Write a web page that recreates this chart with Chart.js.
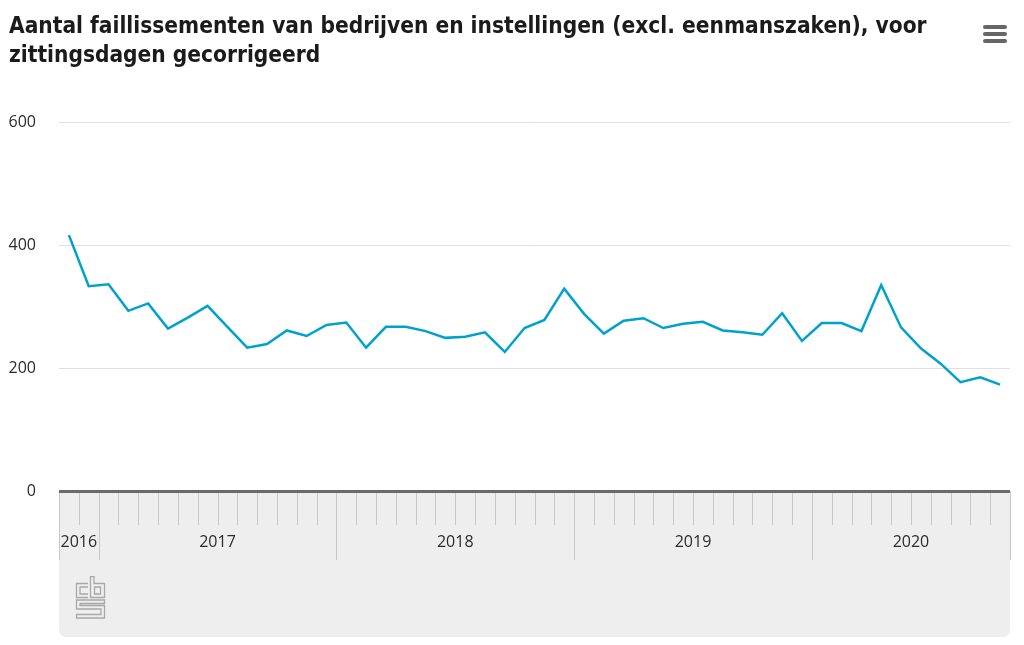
<!DOCTYPE html>
<html lang="nl">
<head>
<meta charset="utf-8">
<title>Faillissementen</title>
<script src="https://cdn.jsdelivr.net/npm/chart.js@4.4.1/dist/chart.umd.min.js"></script>
<style>
    html, body { margin: 0; padding: 0; background: #fff; }
    #wrap { position: relative; width: 1024px; height: 645px; overflow: hidden; }
    #grafiek { position: absolute; left: 0; top: 0; }
    #titel {
        position: absolute; left: 9px; top: 11px;
        font-family: "DejaVu Sans Condensed", "DejaVu Sans", sans-serif;
        font-weight: bold; font-size: 22.5px; line-height: 29px; color: #1b1b1b;
        white-space: nowrap;
    }
    #menu { position: absolute; left: 983px; top: 25px; width: 24px; }
    #menu span { display: block; height: 4px; margin-bottom: 3px; background: #666; border-radius: 2px; }
    #logo { position: absolute; left: 75px; top: 576px; }
</style>
</head>
<body>
<div id="wrap">
    <canvas id="grafiek" width="1024" height="645"></canvas>
    <div id="titel">Aantal faillissementen van bedrijven en instellingen (excl. eenmanszaken), voor<br>zittingsdagen gecorrigeerd</div>
    <div id="menu"><span></span><span></span><span></span></div>
    <svg id="logo" width="31" height="43" viewBox="0 0 31 43" fill="none" stroke="#a8a8a8" stroke-width="1.3">
        <path d="M13 7.5H1.5V21.5H13M13 11H5V18H13"/>
        <path d="M15.5 0.5H19V7.5H29.5V21.5H15.5Z M19.5 11H25.5V18H19.5Z"/>
        <path d="M29.5 24H1.5V33H26V38.5H1.5V42H29.5V29.5H5V27.5H29.5Z"/>
    </svg>
</div>

<script>
// Maanden (nov 2016 t/m okt 2020)
const maanden = [
    'november 2016', 'december 2016',
    'januari 2017', 'februari 2017', 'maart 2017', 'april 2017', 'mei 2017', 'juni 2017',
    'juli 2017', 'augustus 2017', 'september 2017', 'oktober 2017', 'november 2017', 'december 2017',
    'januari 2018', 'februari 2018', 'maart 2018', 'april 2018', 'mei 2018', 'juni 2018',
    'juli 2018', 'augustus 2018', 'september 2018', 'oktober 2018', 'november 2018', 'december 2018',
    'januari 2019', 'februari 2019', 'maart 2019', 'april 2019', 'mei 2019', 'juni 2019',
    'juli 2019', 'augustus 2019', 'september 2019', 'oktober 2019', 'november 2019', 'december 2019',
    'januari 2020', 'februari 2020', 'maart 2020', 'april 2020', 'mei 2020', 'juni 2020',
    'juli 2020', 'augustus 2020', 'september 2020', 'oktober 2020'
];

// Aantal faillissementen per maand
const faillissementen = [
    416, 333,
    336, 293, 305, 264, 282, 301, 267, 233, 239, 261, 252, 270,
    274, 233, 267, 267, 260, 249, 251, 258, 226, 265, 278, 329,
    288, 256, 277, 281, 265, 272, 275, 261, 258, 254, 289, 244,
    273, 273, 260, 335, 266, 232, 207, 177, 185, 173
];

// Jaarlabels onder de as en y-as stappen
const jaren = ['2016', '2017', '2018', '2019', '2020'];
const yTicks = [0, 200, 400, 600];

const lettertype = '"Open Sans", "DejaVu Sans", sans-serif';

// Grijze balk onder de grafiek met maandstreepjes en jaartallen
const onderbalk = {
    id: 'onderbalk',
    beforeDraw(chart) {
        const { ctx, chartArea } = chart;
        const x = chart.scales.x;
        const boven = chartArea.bottom;
        const links = chartArea.left;
        const rechts = chartArea.right;

        ctx.save();
        ctx.fillStyle = '#eeeeee';
        ctx.beginPath();
        ctx.roundRect(links, boven, rechts - links, 146, [0, 0, 7, 7]);
        ctx.fill();

        // grenzen tussen de maanden
        const stap = x.getPixelForValue(1) - x.getPixelForValue(0);
        const grens = i => x.getPixelForValue(i) - stap / 2;

        ctx.strokeStyle = '#c8c8c8';
        ctx.lineWidth = 1;
        for (let i = 0; i <= maanden.length; i++) {
            const px = Math.round(grens(i)) + 0.5;
            const jaarGrens = i === 0 || i === maanden.length || maanden[i].startsWith('januari');
            ctx.beginPath();
            ctx.moveTo(px, boven);
            ctx.lineTo(px, boven + (jaarGrens ? 69 : 34));
            ctx.stroke();
        }

        // jaartallen in het midden van hun maanden
        ctx.fillStyle = '#2b2b2b';
        ctx.font = '16px ' + lettertype;
        ctx.textAlign = 'center';
        ctx.textBaseline = 'middle';
        jaren.forEach(jaar => {
            const idx = maanden.map((m, i) => m.endsWith(jaar) ? i : -1).filter(i => i >= 0);
            const midden = (grens(idx[0]) + grens(idx[idx.length - 1] + 1)) / 2;
            ctx.fillText(jaar, midden, boven + 51);
        });
        ctx.restore();
    }
};

new Chart(document.getElementById('grafiek'), {
    type: 'line',
    data: {
        labels: maanden,
        datasets: [{
            label: 'Faillissementen',
            data: faillissementen,
            borderColor: '#00a1cd',
            borderWidth: 2.5,
            pointRadius: 0,
            tension: 0,
            fill: false
        }]
    },
    options: {
        responsive: false,
        animation: false,
        layout: {
            padding: { left: 0, right: 14, top: 122, bottom: 154 }
        },
        plugins: {
            legend: { display: false },
            tooltip: { enabled: false }
        },
        scales: {
            x: {
                type: 'category',
                display: false,
                offset: true
            },
            y: {
                min: yTicks[0],
                max: yTicks[yTicks.length - 1],
                afterFit: scale => { scale.width = 59; },
                afterBuildTicks: scale => {
                    scale.ticks = yTicks.map(v => ({ value: v }));
                },
                border: { display: false },
                grid: {
                    drawTicks: false,
                    color: c => c.tick && c.tick.value === 0 ? '#6b6b6b' : '#e0e0e0',
                    lineWidth: c => c.tick && c.tick.value === 0 ? 3 : 1
                },
                ticks: {
                    padding: 23,
                    color: '#2b2b2b',
                    font: { family: lettertype, size: 16 }
                }
            }
        }
    },
    plugins: [onderbalk]
});
</script>
</body>
</html>
